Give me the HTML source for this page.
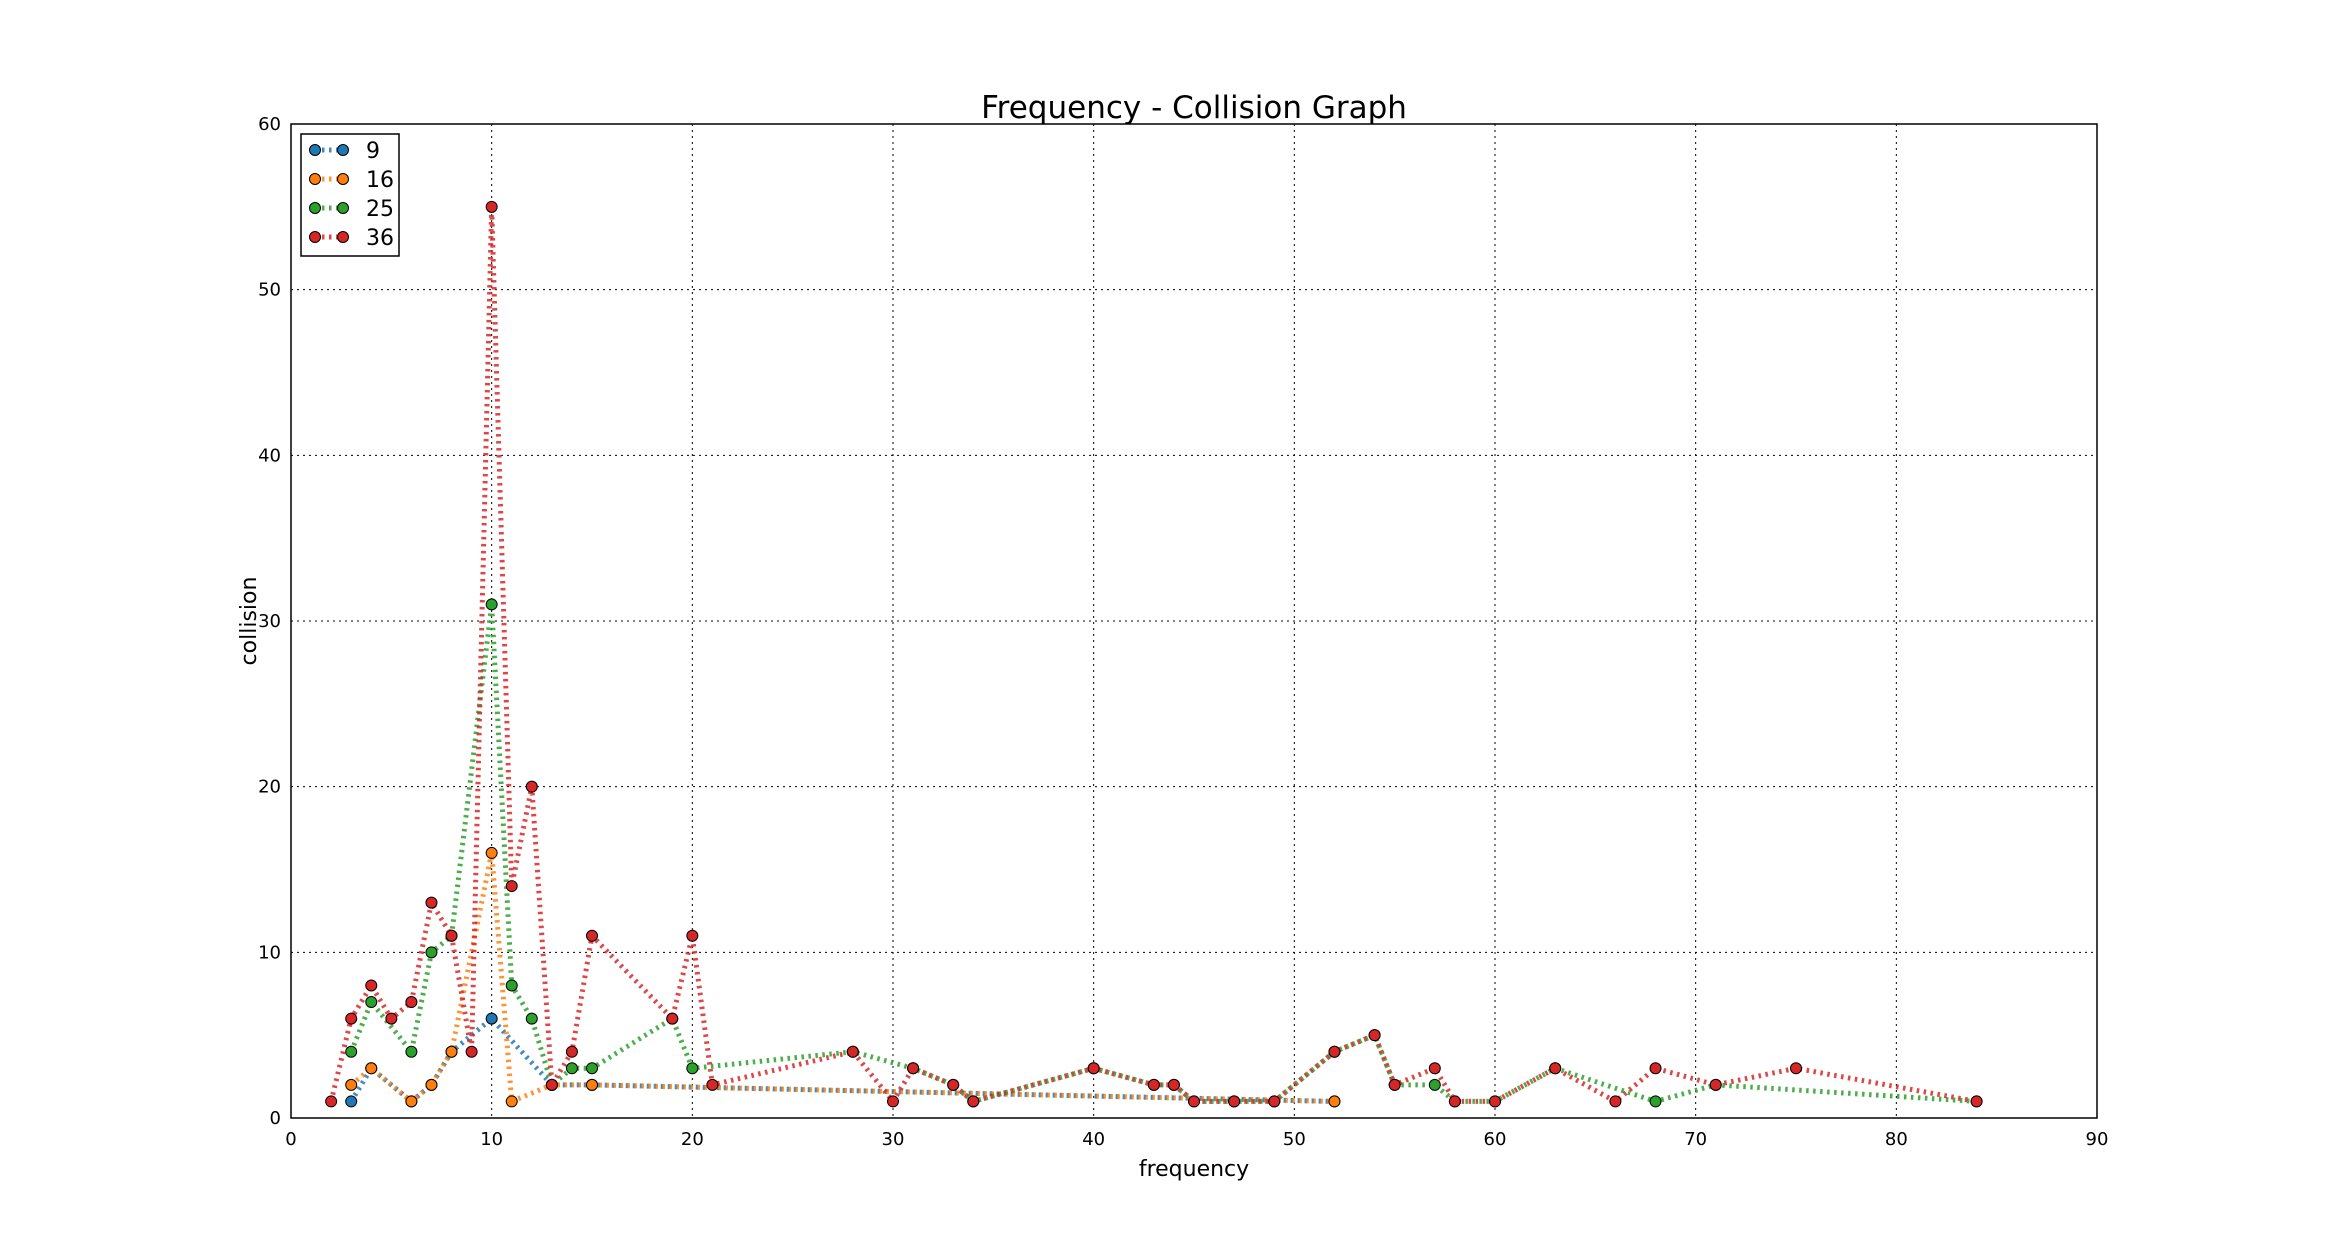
<!DOCTYPE html>
<html><head><meta charset="utf-8"><style>
body{margin:0;background:#fff;font-family:"Liberation Sans","DejaVu Sans",sans-serif}
</style></head><body>
<svg id="chart" width="2328" height="1242" xmlns="http://www.w3.org/2000/svg" font-family="DejaVu Sans, Liberation Sans, sans-serif">
<rect width="2328" height="1242" fill="#fff"/>
<g id="grid"></g><g id="series"></g><g id="axes"></g>
</svg>
<script>
const seriesNames = ["9","16","25","36"];
const seriesColors = ["#1f77b4","#ff7f0e","#2ca02c","#d62728"];
const x9 = [3,4,6,7,8,10,13,15,52];
const y9 = [1,3,1,2,4,6,2,2,1];
const x16 = [3,4,6,7,8,10,11,13,15,52];
const y16 = [2,3,1,2,4,16,1,2,2,1];
const x25 = [3,4,6,7,8,10,11,12,13,14,15,19,20,28,31,33,34,40,43,44,45,47,49,52,54,55,57,58,60,63,68,71,84];
const y25 = [4,7,4,10,11,31,8,6,2,3,3,6,3,4,3,2,1,3,2,2,1,1,1,4,5,2,2,1,1,3,1,2,1];
const x36 = [2,3,4,5,6,7,8,9,10,11,12,13,14,15,19,20,21,28,30,31,33,34,40,43,44,45,47,49,52,54,55,57,58,60,63,66,68,71,75,84];
const y36 = [1,6,8,6,7,13,11,4,55,14,20,2,4,11,6,11,2,4,1,3,2,1,3,2,2,1,1,1,4,5,2,3,1,1,3,1,3,2,3,1];
const xTicks = [0,10,20,30,40,50,60,70,80,90];
const yTicks = [0,10,20,30,40,50,60];

const L=291,R=2097,T=124,B=1118;
const sx=v=>L+(v-0)/90*(R-L);
const sy=v=>B-(v-0)/60*(B-T);
const NS="http://www.w3.org/2000/svg";
function mk(tag,attrs,parent){const e=document.createElementNS(NS,tag);for(const k in attrs)e.setAttribute(k,attrs[k]);parent.appendChild(e);return e;}
const grid=document.getElementById('grid'),ser=document.getElementById('series'),ax=document.getElementById('axes');
xTicks.forEach(t=>{
  if(t>0&&t<90){const g=mk('line',{x1:sx(t),x2:sx(t),y1:T,y2:B,stroke:'#000','stroke-width':1,'stroke-dasharray':'2,4'},grid);
  
  }
  const tl=mk('text',{x:sx(t),y:B+27,'font-size':18,'text-anchor':'middle'},ax);tl.textContent=t;
  
  
});
yTicks.forEach(t=>{
  if(t>0&&t<60){const g=mk('line',{x1:L,x2:R,y1:sy(t),y2:sy(t),stroke:'#000','stroke-width':1,'stroke-dasharray':'2,4'},grid);
  
  }
  const tl=mk('text',{x:L-10,y:sy(t)+6,'font-size':18,'text-anchor':'end'},ax);tl.textContent=t;
  
  
});
const xs=[x9,x16,x25,x36],ys=[y9,y16,y25,y36];
xs.forEach((xa,i)=>{
  const pts=xa.map((x,j)=>sx(x)+','+sy(ys[i][j])).join(' ');
  const pl=mk('polyline',{points:pts,fill:'none',stroke:seriesColors[i],'stroke-width':5,'stroke-dasharray':'2.5,4.5','stroke-opacity':0.85},ser);
  
  
  xa.forEach((x,j)=>{
    const c=mk('circle',{cx:sx(x),cy:sy(ys[i][j]),r:5.5,fill:seriesColors[i],stroke:'#000','stroke-width':1},ser);
    
    
  });
});
const fr=mk('rect',{x:L,y:T,width:R-L,height:B-T,fill:'none',stroke:'#000','stroke-width':1.5},ax);


const title=mk('text',{x:(L+R)/2,y:118,'font-size':31,'text-anchor':'middle'},ax);title.textContent='Frequency - Collision Graph';


const xl=mk('text',{x:(L+R)/2,y:1176,'font-size':22,'text-anchor':'middle'},ax);xl.textContent='frequency';


const yl=mk('text',{x:0,y:0,'font-size':22,'text-anchor':'middle',transform:'translate(256,'+((T+B)/2)+') rotate(-90)'},ax);yl.textContent='collision';


const lg=mk('g',{},ax);


mk('rect',{x:301,y:134,width:98,height:122,fill:'#fff',stroke:'#000','stroke-width':1.5},lg);
seriesNames.forEach((n,i)=>{
  const y=150+i*29;
  const e=mk('g',{},lg);
  
  
  mk('line',{x1:315,x2:343,y1:y,y2:y,stroke:seriesColors[i],'stroke-width':5,'stroke-dasharray':'2.5,4.5','stroke-opacity':0.85},e);
  mk('circle',{cx:315,cy:y,r:5.5,fill:seriesColors[i],stroke:'#000','stroke-width':1},e);
  mk('circle',{cx:343,cy:y,r:5.5,fill:seriesColors[i],stroke:'#000','stroke-width':1},e);
  const t=mk('text',{x:366,y:y+8,'font-size':22},e);t.textContent=n;
});
</script>
</body></html>
